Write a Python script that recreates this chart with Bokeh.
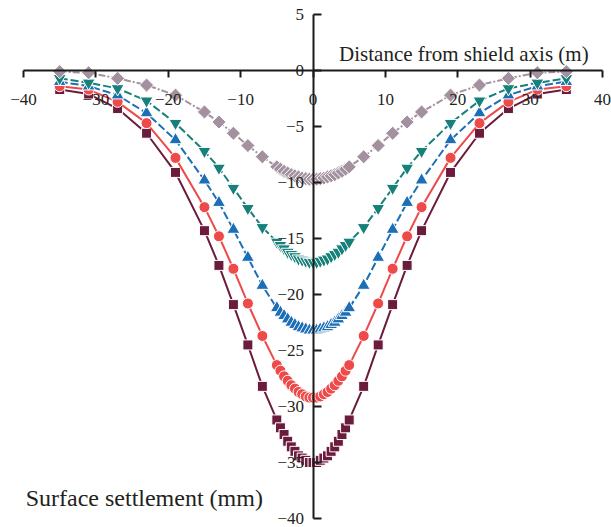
import math
from bokeh.plotting import figure
from bokeh.models import Range1d, LinearAxis, FixedTicker, Label
from bokeh.embed import file_html
from bokeh.resources import INLINE

# distance from shield axis (m)
x_m = [-35, -31, -27, -23, -19, -15, -13, -11, -9, -7,
       -5, -4.5, -4, -3.5, -3, -2.5, -2, -1.5, -1, -0.5, 0,
       0.5, 1, 1.5, 2, 2.5, 3, 3.5, 4, 4.5, 5,
       7, 9, 11, 13, 15, 19, 23, 27, 31, 35]

# surface settlement (mm)
s_gray = [-0.1, -0.2, -0.7, -1.3, -2.2, -3.7, -4.6, -5.6, -6.7, -7.7,
          -8.6, -8.8, -9.0, -9.15, -9.3, -9.4, -9.5, -9.6, -9.65, -9.7, -9.7,
          -9.7, -9.65, -9.6, -9.5, -9.4, -9.3, -9.15, -9.0, -8.8, -8.6,
          -7.7, -6.7, -5.6, -4.6, -3.7, -2.2, -1.3, -0.7, -0.2, -0.1]
s_teal = [-0.7, -1.1, -1.6, -2.7, -4.7, -7.2, -8.7, -10.5, -12.3, -14.0,
          -15.3, -15.6, -15.9, -16.2, -16.4, -16.6, -16.8, -16.9, -17.0, -17.1, -17.1,
          -17.1, -17.0, -16.9, -16.8, -16.6, -16.4, -16.2, -15.9, -15.6, -15.3,
          -14.0, -12.3, -10.5, -8.7, -7.2, -4.7, -2.7, -1.6, -1.1, -0.7]
s_blue = [-1.0, -1.4, -2.2, -3.8, -6.2, -9.8, -11.8, -14.2, -16.7, -19.2,
          -21.2, -21.6, -21.9, -22.2, -22.5, -22.7, -22.9, -23.0, -23.1, -23.2, -23.2,
          -23.2, -23.1, -23.0, -22.9, -22.7, -22.5, -22.2, -21.9, -21.6, -21.2,
          -19.2, -16.7, -14.2, -11.8, -9.8, -6.2, -3.8, -2.2, -1.4, -1.0]
s_red = [-1.4, -1.7, -2.8, -4.7, -7.8, -12.2, -14.8, -17.7, -20.8, -23.7,
         -26.3, -26.8, -27.3, -27.7, -28.1, -28.4, -28.7, -28.9, -29.1, -29.2, -29.2,
         -29.2, -29.1, -28.9, -28.7, -28.4, -28.1, -27.7, -27.3, -26.8, -26.3,
         -23.7, -20.8, -17.7, -14.8, -12.2, -7.8, -4.7, -2.8, -1.7, -1.4]
s_maroon = [-1.7, -2.1, -3.4, -5.6, -9.1, -14.3, -17.4, -20.9, -24.5, -28.2,
            -31.2, -31.9, -32.5, -33.1, -33.6, -34.0, -34.4, -34.6, -34.8, -35.0, -35.0,
            -35.0, -34.8, -34.6, -34.4, -34.0, -33.6, -33.1, -32.5, -31.9, -31.2,
            -28.2, -24.5, -20.9, -17.4, -14.3, -9.1, -5.6, -3.4, -2.1, -1.7]

x_ticks = [-40, -30, -20, -10, 0, 10, 20, 30, 40]
y_ticks = [5, 0, -5, -10, -15, -20, -25, -30, -35, -40]

x_title = "Distance from shield axis (m)"
y_title = "Surface settlement (mm)"

FONT = "Liberation Serif"
TXT = "#231f20"

# frame covers the whole canvas; axes are bounded to their data extent
p = figure(width=611, height=527, output_backend="svg", toolbar_location=None,
           x_range=Range1d(-43.18, 41.24), y_range=Range1d(-40.80, 6.25),
           x_axis_location=None, y_axis_location=None,
           min_border_left=0, min_border_right=0, min_border_top=0,
           min_border_bottom=0)
p.outline_line_color = None
p.background_fill_color = "white"
for g in p.grid:
    g.visible = False


def lab(v):
    return str(v).replace("-", "\u2212")


xa = LinearAxis(fixed_location=0, ticker=FixedTicker(ticks=x_ticks),
                bounds=(x_ticks[0], x_ticks[-1]))
xa.major_label_overrides = {t: lab(t) for t in x_ticks}
xa.major_tick_out = 7
xa.major_tick_in = 0
xa.major_label_standoff = 16
p.add_layout(xa, "below")

ya = LinearAxis(fixed_location=0, ticker=FixedTicker(ticks=y_ticks),
                bounds=(y_ticks[-1], y_ticks[0]))
ya.major_label_overrides = {t: lab(t) for t in y_ticks}
ya.major_tick_out = 0
ya.major_tick_in = 8
ya.major_label_standoff = 9
p.add_layout(ya, "left")

for ax in (xa, ya):
    ax.axis_line_width = 2
    ax.axis_line_color = "#1a1a1a"
    ax.major_tick_line_width = 2
    ax.major_tick_line_color = "#1a1a1a"
    ax.minor_tick_out = 0
    ax.minor_tick_in = 0
    ax.major_label_text_font = FONT
    ax.major_label_text_font_size = "17px"
    ax.major_label_text_color = TXT

series = [
    (s_maroon, "#6b1b3c", "square", 10, 0, "solid"),
    (s_red, "#ee4a4a", "circle", 11, 0, "solid"),
    (s_blue, "#1c6fb6", "triangle", 13, 0, "8 3"),
    (s_teal, "#17807a", "inverted_triangle", 13, 0, "8 3"),
    (s_gray, "#a3919f", "square", 10, math.pi / 4, "7 2 2 2"),
]
for ys, col, mk, sz, ang, dash in series:
    p.line(x_m, ys, line_color=col, line_width=2, line_dash=dash)
    p.scatter(x_m, ys, marker=mk, size=sz, angle=ang, fill_color=col,
              line_color="white", line_width=1)

p.add_layout(Label(x=3.6, y=1.5, text=x_title, text_font=FONT,
                   text_font_size="21px", text_color=TXT,
                   text_baseline="alphabetic"))
p.add_layout(Label(x=-39.7, y=-38.2, text=y_title, text_font=FONT,
                   text_font_size="24px", text_color=TXT,
                   text_baseline="alphabetic"))

open("out.html", "w").write(file_html(p, INLINE))
